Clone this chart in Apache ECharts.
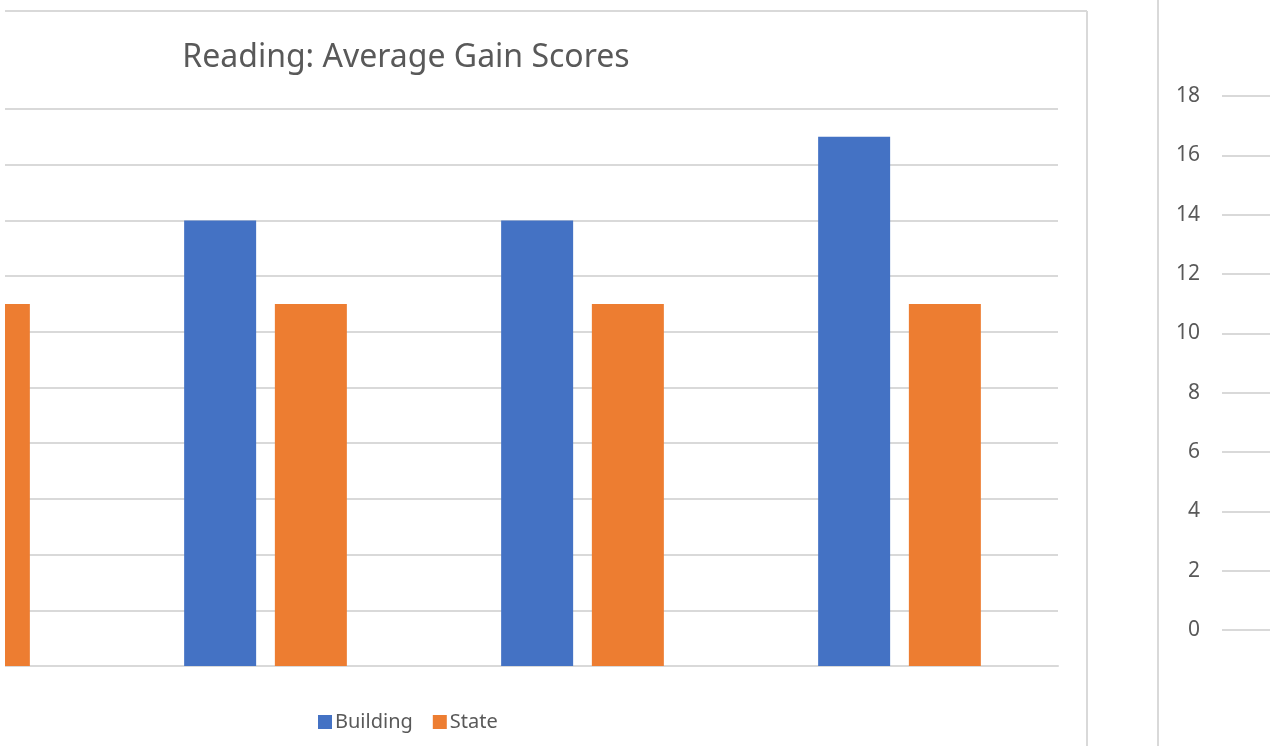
<!DOCTYPE html>
<html>
<head>
<meta charset="utf-8">
<script src="https://cdn.jsdelivr.net/npm/echarts@6/dist/echarts.min.js"></script>
<style>
  html, body { margin: 0; padding: 0; background: #fff; }
  #wrap { position: relative; width: 1270px; height: 746px; overflow: hidden; }
  /* the plot runs past the left edge of the crop, so the canvas is shifted left */
  #chart { position: absolute; left: -210px; top: 0; width: 1480px; height: 746px; }
</style>
</head>
<body>
<div id="wrap"><div id="chart"></div></div>
<script>
// data (category names are not visible in the crop)
const categories = ['Group 1', 'Group 2', 'Group 3', 'Group 4'];
const building = [16, 16, 16, 19];
const state = [13, 13, 13, 13];
const sideTicks = [0, 18, 2]; // min, max, step of the detached axis on the right

const gridColor = '#d9d9d9';
const textColor = '#595959';
const shift = 210; // canvas offset to the left

const chart = echarts.init(document.getElementById('chart'));

const option = {
  backgroundColor: '#fff',
  animation: false,
  title: {
    text: 'Reading: Average Gain Scores',
    left: 401 + shift,
    top: 37,
    textAlign: 'center',
    textStyle: {
      fontFamily: 'Noto Sans',
      fontWeight: 'normal',
      fontSize: 32,
      color: textColor
    }
  },
  legend: {
    data: ['Building', 'State'],
    left: 318 + shift,
    top: 712,
    padding: 0,
    itemWidth: 14,
    itemHeight: 14,
    itemGap: 20,
    icon: 'rect',
    textStyle: {
      fontFamily: 'Noto Sans',
      fontSize: 20,
      color: textColor,
      padding: [0, 0, 0, -2]
    }
  },
  grid: [
    { left: 0, right: 212, top: 109, bottom: 80 },
    { left: 1222 + shift, right: 0, top: 96, bottom: 116 }
  ],
  xAxis: [
    {
      type: 'category',
      gridIndex: 0,
      data: categories,
      axisTick: { show: false },
      axisLabel: { show: false },
      axisLine: { lineStyle: { color: gridColor, width: 2 } }
    },
    {
      type: 'value',
      gridIndex: 1,
      show: false
    }
  ],
  yAxis: [
    {
      type: 'value',
      gridIndex: 0,
      min: 0,
      max: 20,
      interval: 2,
      axisLabel: { show: false },
      axisLine: { show: false },
      axisTick: { show: false },
      splitLine: { lineStyle: { color: gridColor, width: 2 } }
    },
    {
      type: 'value',
      gridIndex: 1,
      min: sideTicks[0],
      max: sideTicks[1],
      interval: sideTicks[2],
      axisLine: { show: false },
      axisTick: { show: false },
      axisLabel: {
        margin: 22,
        fontFamily: 'Noto Sans',
        fontSize: 21,
        color: textColor
      },
      splitLine: { lineStyle: { color: gridColor, width: 2 } }
    }
  ],
  series: [
    {
      name: 'Building',
      type: 'bar',
      xAxisIndex: 0,
      yAxisIndex: 0,
      data: building,
      barWidth: 72,
      barGap: '26%',
      itemStyle: { color: '#4472C4' }
    },
    {
      name: 'State',
      type: 'bar',
      xAxisIndex: 0,
      yAxisIndex: 0,
      data: state,
      barWidth: 72,
      barGap: '26%',
      itemStyle: { color: '#ED7D31' }
    }
  ],
  graphic: [
    // white strip hiding the part cut off at the left edge
    { type: 'rect', z: 100, shape: { x: 0, y: 0, width: shift + 5, height: 746 }, style: { fill: '#fff' } },
    // chart area border (top and right)
    { type: 'line', z: 101, shape: { x1: shift + 5, y1: 11, x2: shift + 1087, y2: 11 }, style: { stroke: gridColor, lineWidth: 2 } },
    { type: 'line', z: 101, shape: { x1: shift + 1087, y1: 11, x2: shift + 1087, y2: 746 }, style: { stroke: gridColor, lineWidth: 2 } },
    // border of the detached panel on the right
    { type: 'line', z: 101, shape: { x1: shift + 1158, y1: 0, x2: shift + 1158, y2: 746 }, style: { stroke: gridColor, lineWidth: 2 } }
  ]
};

chart.setOption(option);
window.addEventListener('resize', () => {
  chart.resize();
});
</script>
</body>
</html>
